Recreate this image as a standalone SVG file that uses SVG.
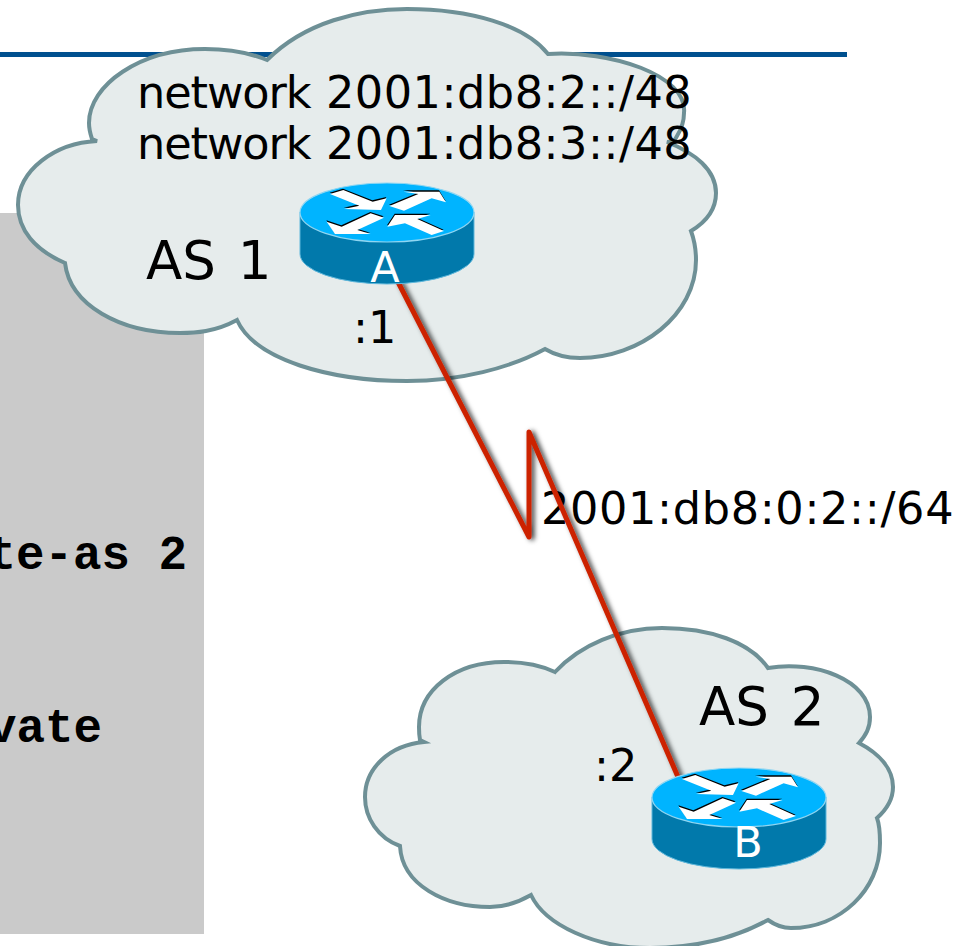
<svg xmlns="http://www.w3.org/2000/svg" xmlns:xlink="http://www.w3.org/1999/xlink" width="974" height="946" viewBox="0 0 974 946">
<style>
.cloud{fill:#E6ECEC;stroke:#6E9096;stroke-width:4;stroke-linejoin:miter}
.t{font-family:"DejaVu Sans",Verdana,sans-serif;fill:#000}
.net{font-size:44.6px}
.word{letter-spacing:-1.1px}
.addr{letter-spacing:.5px}
.as{font-size:53px;word-spacing:5px}
.ip{font-size:44.6px}
.lbl{letter-spacing:.65px}
.rl{font-family:"DejaVu Sans",Verdana,sans-serif;fill:#fff;font-size:43px;text-anchor:middle}
.mono{font-family:"Liberation Mono",monospace;font-weight:700;font-size:47.5px;fill:#000;text-anchor:end}
.link{fill:none;stroke:#CC2200;stroke-width:5;stroke-linejoin:round;stroke-linecap:round;filter:url(#sh)}
</style>
<defs>
<filter id="sh" x="-20%" y="-20%" width="140%" height="140%"><feDropShadow dx="3" dy="1" stdDeviation="2.500" flood-color="#000" flood-opacity=".75"/></filter>
<g id="arrows">
<polygon points="150,72 190,60 278,95 320,85 303,120 192,117 238,107"/>
<polygon points="328,108 415,72 370,65 478,65 498,97 455,85 372,122"/>
<polygon points="140,155 185,170 272,130 312,143 232,180 272,192 165,192"/>
<polygon points="322,170 345,135 452,135 412,147 492,183 455,195 375,160"/>
</g>
<g id="router">
<path d="M20,42V84A87,30 0 0 0 194,84V42Z" fill="#0179AB" stroke="#5FB8DC" stroke-width="1"/>
<ellipse cx="107" cy="42.500" rx="87" ry="29.500" fill="#00B4FF" stroke="#8FD6F2" stroke-width="1.200"/>
<g transform="scale(.3333)">
<use href="#arrows" fill="#000" transform="translate(-1,-4)"/>
<use href="#arrows" fill="#fff"/>
</g>
</g>
</defs>
<rect id="panel" x="0" y="213" width="204" height="721" fill="#CACACA"/>
<rect id="rule" x="0" y="52" width="847" height="5" fill="#00508F"/>
<text class="mono" x="187" y="569">te-as 2</text>
<text class="mono" x="102" y="742">vate</text>
<g id="cloud-as1">
<path class="cloud" d="M267,60C305,22 360,9 407,9C470,9 525,25 548,54C610,50 688,75 684,113C684,122 682,128 677,136C675,141 672,142 667,142C695,153 716,170 716,193C716,210 706,222 691,231C695,242 696,250 696,260C696,315 640,358 580,358C565,358 555,355 545,349C510,368 460,381 407,381C330,381 255,360 237,320C215,332 195,333 180,333C120,333 70,305 65,263C35,250 18,230 18,205C18,170 55,143 97,141L92,139C90,133 89,128 89,123C89,85 140,49 205,49C228,49 250,53 267,60Z"/>
<text class="t net" x="137" y="108"><tspan class="word">network</tspan><tspan x="326" class="addr">2001:db8:2::/48</tspan></text>
<text class="t net" x="137" y="159"><tspan class="word">network</tspan><tspan x="326" class="addr">2001:db8:3::/48</tspan></text>
<text class="t as" x="146" y="279">AS 1</text>
<text class="t ip" x="353" y="343">:1</text>
</g>
<g id="cloud-as2">
<path class="cloud" d="M555,672C580,645 620,628 662,628C710,628 750,642 768,668C815,660 870,680 870,717C870,728 866,735 859,743C878,753 893,768 893,787C893,800 886,810 877,818C880,826 880,834 880,843C880,890 840,928 791,928C783,928 775,925 768,920C735,938 695,948 650,948C595,948 545,925 531,895C517,903 505,907 490,907C445,907 402,885 400,846C378,838 365,818 365,797C365,768 390,745 424,742L420,740C419,735 419,731 419,727C419,690 455,662 504,662C525,662 542,666 555,672Z"/>
<text class="t as" x="699" y="725">AS 2</text>
<text class="t ip" x="594" y="781">:2</text>
</g>
<text id="link-label" class="t ip lbl" x="541" y="524">2001:db8:0:2::/64</text>
<g id="connectors">
<path class="link" d="M398,282L529,537V432L678,777"/>
</g>
<g id="router-a">
<use href="#router" x="280" y="170"/>
<text class="rl" x="385" y="282">A</text>
</g>
<g id="router-b">
<use href="#router" x="632" y="755"/>
<text class="rl" x="748" y="857">B</text>
</g>
</svg>
